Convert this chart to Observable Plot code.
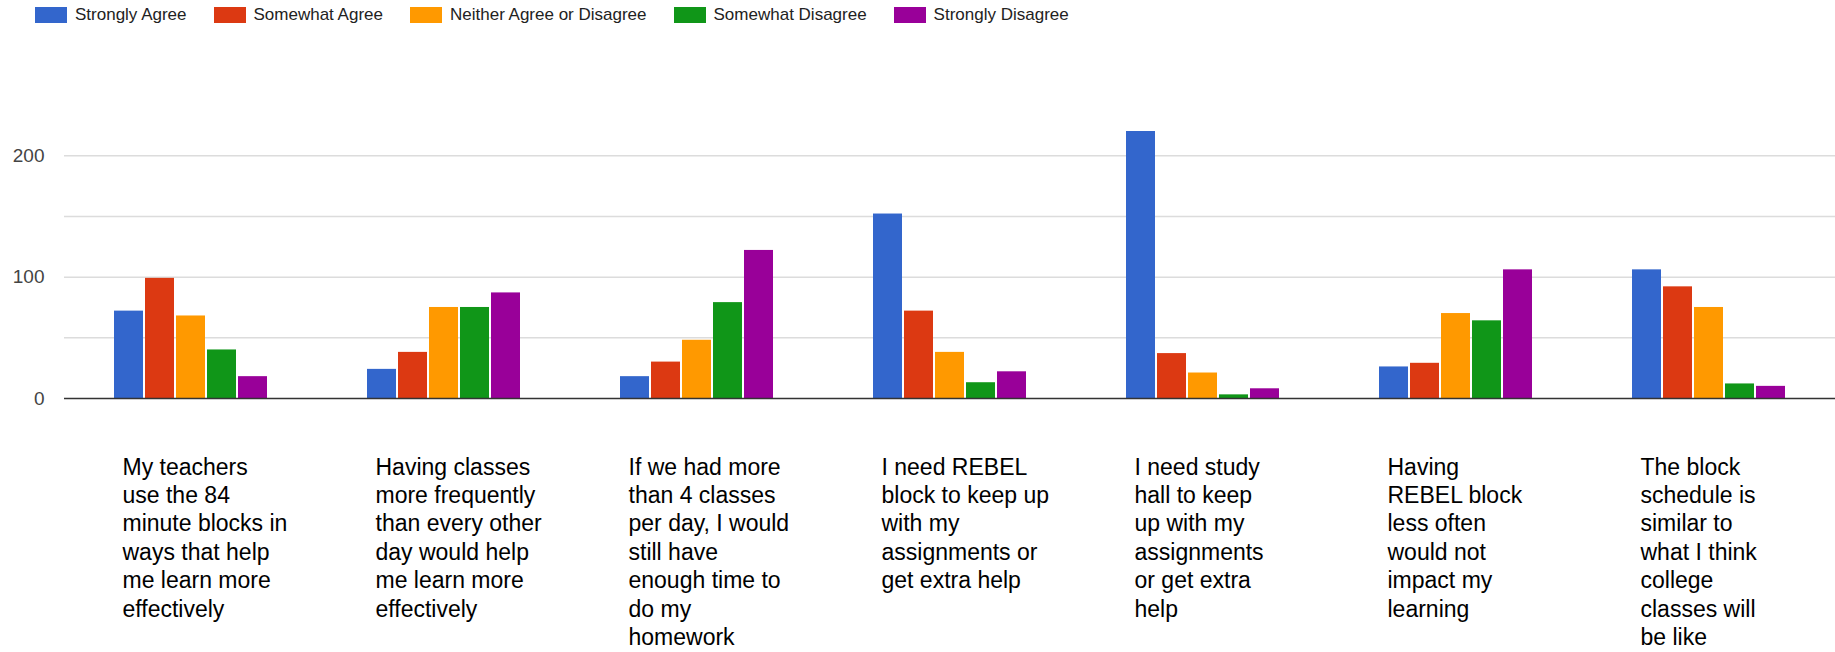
<!DOCTYPE html>
<html><head><meta charset="utf-8">
<script src="https://cdn.jsdelivr.net/npm/d3@7"></script>
<script src="https://cdn.jsdelivr.net/npm/@observablehq/plot@0.6"></script>
<style>
body{margin:0;background:#fff;font-family:"Liberation Sans",Arial,sans-serif;}
#wrap{position:relative;width:1835px;height:652px;overflow:hidden;background:#fff}
#legend{position:absolute;left:35px;top:7px;display:flex;align-items:center;font-size:17px;color:#222;line-height:16px}
.item{display:flex;align-items:center;margin-right:27px}
.sw{width:32px;height:16px;margin-right:8px}
#chart{position:absolute;left:0;top:0}
</style></head><body>
<div id="wrap"><div id="chart"></div><div id="legend"></div></div>
<script>
const questions = [
  "My teachers\nuse the 84\nminute blocks in\nways that help\nme learn more\neffectively",
  "Having classes\nmore frequently\nthan every other\nday would help\nme learn more\neffectively",
  "If we had more\nthan 4 classes\nper day, I would\nstill have\nenough time to\ndo my\nhomework",
  "I need REBEL\nblock to keep up\nwith my\nassignments or\nget extra help",
  "I need study\nhall to keep\nup with my\nassignments\nor get extra\nhelp",
  "Having\nREBEL block\nless often\nwould not\nimpact my\nlearning",
  "The block\nschedule is\nsimilar to\nwhat I think\ncollege\nclasses will\nbe like"
];
const responses = ["Strongly Agree", "Somewhat Agree", "Neither Agree or Disagree", "Somewhat Disagree", "Strongly Disagree"];
const colors = ["#3366cc", "#dc3912", "#ff9900", "#109618", "#990099"];
const stronglyAgree    = [72, 24, 18, 152, 220, 26, 106];
const somewhatAgree    = [99, 38, 30, 72, 37, 29, 92];
const neither          = [68, 75, 48, 38, 21, 70, 75];
const somewhatDisagree = [40, 75, 79, 13, 3, 64, 12];
const stronglyDisagree = [18, 87, 122, 22, 8, 106, 10];
const yTicks = [0, 100, 200];
const yGrid = [50, 100, 150, 200];

const series = [stronglyAgree, somewhatAgree, neither, somewhatDisagree, stronglyDisagree];
const data = questions.flatMap((q, i) => responses.map((r, j) => ({question: q, response: r, value: series[j][i]})));

const chart = Plot.plot({
  width: 1835, height: 652,
  marginTop: 131, marginBottom: 254, marginLeft: 63, marginRight: 0,
  style: {fontFamily: "'Liberation Sans', Arial, sans-serif", fontSize: "19px", color: "#444", background: "transparent"},
  fx: {domain: questions, padding: 0, axis: null},
  x: {domain: responses, paddingInner: 0, paddingOuter: 1.556, axis: null},
  y: {domain: [0, 220], ticks: yTicks, tickSize: 0, tickPadding: 20, label: null},
  color: {domain: responses, range: colors},
  marks: [
    Plot.ruleY(yGrid, {stroke: "#dcdcdc", strokeWidth: 1.5}),
    Plot.barY(data, {fx: "question", x: "response", y: "value", fill: "response", insetLeft: 1, insetRight: 1}),
    Plot.ruleY([0], {stroke: "#333", strokeWidth: 1.5}),
    Plot.text(questions, {fx: d => d, text: d => d, frameAnchor: "bottom-left", textAnchor: "start", lineAnchor: "top",
      dx: 58, dy: 56, fontSize: 23, lineHeight: 1.235, fill: "#000"})
  ]
});
document.getElementById("chart").append(chart);

const legend = document.getElementById("legend");
responses.forEach((r, i) => {
  const item = document.createElement("div");
  item.className = "item";
  const sw = document.createElement("div");
  sw.className = "sw";
  sw.style.background = colors[i];
  const t = document.createElement("span");
  t.textContent = r;
  item.append(sw, t);
  legend.append(item);
});
</script>
</body></html>
